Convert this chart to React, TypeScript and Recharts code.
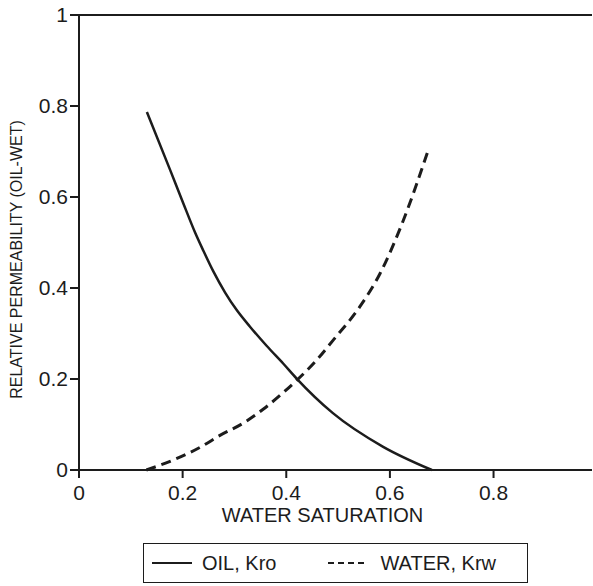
import { LineChart, Line, XAxis, YAxis, ReferenceLine, Legend } from "recharts";

// water saturation vs relative permeability
const oilSw = [0.131, 0.176, 0.201, 0.224, 0.24, 0.259, 0.282, 0.304, 0.33, 0.362, 0.394, 0.42, 0.49, 0.587, 0.681];
const oilKro = [0.787, 0.659, 0.587, 0.522, 0.482, 0.437, 0.39, 0.352, 0.315, 0.273, 0.234, 0.201, 0.125, 0.051, 0];

const waterSw = [0.13, 0.182, 0.234, 0.272, 0.317, 0.356, 0.394, 0.42, 0.459, 0.491, 0.542, 0.581, 0.626, 0.674];
const waterKrw = [0, 0.022, 0.05, 0.076, 0.103, 0.134, 0.17, 0.197, 0.242, 0.286, 0.359, 0.432, 0.549, 0.703];

const xTicks = [0, 0.2, 0.4, 0.6, 0.8];
const yTicks = [0, 0.2, 0.4, 0.6, 0.8, 1];

const oilData = oilSw.map((x, i) => ({ x, v: oilKro[i] }));
const waterData = waterSw.map((x, i) => ({ x, v: waterKrw[i] }));

const INK = "#1c1c1c";
const FONT = "'Liberation Sans', Arial, Helvetica, sans-serif";

function YLabel(props: any) {
  const { viewBox } = props;
  const cx = 16;
  const cy = viewBox.y + viewBox.height / 2 + 17;
  return (
    <text
      x={cx}
      y={cy}
      transform={`rotate(-90, ${cx}, ${cy})`}
      textAnchor="middle"
      dominantBaseline="central"
      fill={INK}
      fontSize={16}
      fontFamily={FONT}
    >
      RELATIVE PERMEABILITY (OIL-WET)
    </text>
  );
}

function LegendBox() {
  return (
    <div
      style={{
        width: 383,
        height: 38,
        border: `1.5px solid ${INK}`,
        display: "flex",
        alignItems: "center",
        fontFamily: FONT,
        fontSize: 20,
        color: INK,
        whiteSpace: "nowrap",
        boxSizing: "content-box",
      }}
    >
      <svg width={50} height={10} style={{ marginLeft: 8, flexShrink: 0 }}>
        <line x1={0} y1={5} x2={40} y2={5} stroke={INK} strokeWidth={2} />
      </svg>
      <span>OIL, Kro</span>
      <svg width={54} height={10} style={{ marginLeft: 50, flexShrink: 0 }}>
        <line x1={2} y1={5} x2={40} y2={5} stroke={INK} strokeWidth={2} strokeDasharray="6 4" />
      </svg>
      <span>WATER, Krw</span>
    </div>
  );
}

export default function App() {
  return (
    <div style={{ position: "absolute", left: 0, top: 0, background: "#fff" }}>
      <LineChart width={593} height={586} margin={{ top: 15, right: 1, bottom: 15, left: 0 }}>
        <XAxis
          type="number"
          dataKey="x"
          domain={[0, 0.99]}
          ticks={xTicks}
          allowDataOverflow
          height={60}
          tickSize={8}
          tickMargin={7}
          tick={{ fontSize: 21, fill: INK, fontFamily: FONT }}
          tickFormatter={(v) => String(v)}
          stroke={INK}
          strokeWidth={2}
          label={{
            value: "WATER SATURATION",
            position: "insideBottom",
            offset: 8,
            dx: -13,
            fontSize: 20,
            fill: INK,
            fontFamily: FONT,
          }}
        />
        <YAxis
          type="number"
          domain={[0, 1]}
          ticks={yTicks}
          width={79}
          tickSize={9}
          tickMargin={2}
          tick={{ fontSize: 21, fill: INK, fontFamily: FONT }}
          tickFormatter={(v) => String(v)}
          stroke={INK}
          strokeWidth={2}
          label={<YLabel />}
        />
        <ReferenceLine y={1} stroke={INK} strokeWidth={2} />
        <Legend
          content={<LegendBox />}
          wrapperStyle={{ left: 143, top: 543, bottom: "auto", width: 386, height: 41 }}
        />
        <Line
          data={oilData}
          dataKey="v"
          name="OIL, Kro"
          type="monotone"
          stroke={INK}
          strokeWidth={2.5}
          dot={false}
          isAnimationActive={false}
        />
        <Line
          data={waterData}
          dataKey="v"
          name="WATER, Krw"
          type="monotone"
          stroke={INK}
          strokeWidth={3}
          strokeDasharray="10 6"
          dot={false}
          isAnimationActive={false}
        />
      </LineChart>
    </div>
  );
}
